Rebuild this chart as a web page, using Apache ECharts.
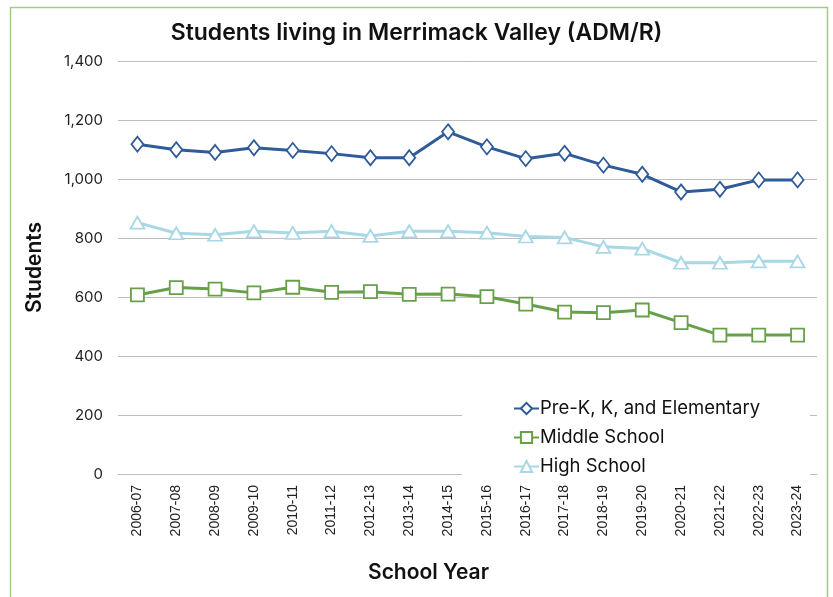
<!DOCTYPE html>
<html>
<head>
<meta charset="utf-8">
<script src="https://cdn.jsdelivr.net/npm/echarts@6/dist/echarts.min.js"></script>
<style>
  html, body { margin: 0; padding: 0; background: #fff; }
  #main { width: 833px; height: 597px; }
</style>
</head>
<body>
<div id="main"></div>
<script>
  var years = ['2006-07', '2007-08', '2008-09', '2009-10', '2010-11', '2011-12', '2012-13', '2013-14', '2014-15',
    '2015-16', '2016-17', '2017-18', '2018-19', '2019-20', '2020-21', '2021-22', '2022-23', '2023-24'];
  var elementary = [1118, 1099, 1090, 1106, 1097, 1086, 1072, 1072, 1160, 1109, 1069, 1087, 1047, 1016, 956, 965, 997, 997];
  var middle = [607, 632, 627, 614, 633, 616, 618, 609, 610, 601, 576, 549, 547, 556, 513, 471, 471, 471];
  var high = [852, 816, 811, 823, 817, 823, 807, 823, 823, 818, 805, 802, 770, 764, 716, 716, 721, 721];
  var yTicks = [0, 200, 400, 600, 800, 1000, 1200, 1400];

  var myChart = echarts.init(document.getElementById('main'));
  var font = 'Inter';

  function lineSeries(name, data, color, symbol, size) {
    return {
      name: name,
      type: 'line',
      data: data,
      symbol: symbol,
      symbolSize: size,
      showAllSymbol: true,
      lineStyle: { color: color, width: 3 },
      itemStyle: { color: '#ffffff', borderColor: color, borderWidth: 1.8 },
      emphasis: { disabled: true }
    };
  }

  var option = {
    animation: false,
    backgroundColor: '#ffffff',
    graphic: [{
      type: 'rect',
      shape: { x: 10.5, y: 7.5, width: 817, height: 620 },
      style: { fill: 'none', stroke: '#a3cc8a', lineWidth: 1.5 },
      silent: true
    }],
    title: {
      text: 'Students living in Merrimack Valley (ADM/R)',
      left: 'center',
      top: 17,
      textStyle: { fontFamily: font, fontSize: 23, fontWeight: 600, color: '#111' }
    },
    legend: {
      orient: 'vertical',
      left: 462,
      top: 390,
      padding: [9, 50, 5, 51],
      backgroundColor: '#ffffff',
      itemWidth: 25,
      itemHeight: 14,
      itemGap: 10,
      textStyle: { fontFamily: font, fontSize: 18.5, color: '#111', padding: [0, 0, 0, -4] },
      data: ['Pre-K, K, and Elementary', 'Middle School', 'High School']
    },
    grid: { left: 118, right: 16, top: 61, bottom: 123 },
    xAxis: {
      type: 'category',
      data: years,
      name: 'School Year',
      nameLocation: 'middle',
      nameGap: 88,
      nameTextStyle: { fontFamily: font, fontSize: 21, fontWeight: 600, color: '#111', padding: [0, 78, 0, 0] },
      axisTick: { show: false },
      axisLine: { lineStyle: { color: '#bdbdbd', width: 1 } },
      axisLabel: {
        rotate: 90,
        margin: 11,
        fontFamily: 'Liberation Sans',
        fontSize: 14,
        color: '#222',
        interval: 0
      }
    },
    yAxis: {
      type: 'value',
      min: yTicks[0],
      max: yTicks[yTicks.length - 1],
      interval: 200,
      name: 'Students',
      nameLocation: 'middle',
      nameGap: 73,
      nameTextStyle: { fontFamily: font, fontSize: 21, fontWeight: 600, color: '#111' },
      axisLine: { show: false },
      axisTick: { show: false },
      splitLine: { lineStyle: { color: '#bdbdbd', width: 1 } },
      axisLabel: {
        margin: 15,
        fontFamily: font,
        fontSize: 15,
        color: '#222',
        formatter: function (v) { return v.toLocaleString('en-US'); }
      }
    },
    series: [
      lineSeries('Pre-K, K, and Elementary', elementary, '#2f5b98', 'diamond', [12, 15]),
      lineSeries('Middle School', middle, '#68a04a', 'rect', 13),
      lineSeries('High School', high, '#a8d7e5', 'triangle', [14, 12])
    ]
  };
  myChart.setOption(option);
</script>
</body>
</html>
